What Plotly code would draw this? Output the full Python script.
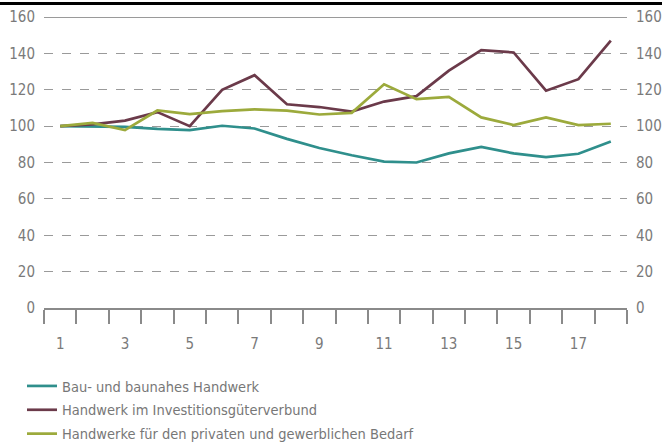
import plotly.graph_objects as go

categories = [str(i) for i in range(1, 19)]
tick_labels = [str(i) if i % 2 == 1 else "" for i in range(1, 19)]

bau = [100, 100, 99.6, 98.5, 97.8, 100.2, 98.7, 93, 88, 84, 80.5, 80, 85, 88.6, 85, 83, 84.8, 91.5]
invest = [100, 101, 103, 107.7, 100, 120, 128, 112, 110.5, 108, 113.5, 116.5, 130.5, 141.8, 140.5, 119.5, 125.8, 147]
privat = [100, 101.8, 97.8, 108.6, 106.6, 108.2, 109.2, 108.5, 106.4, 107.3, 123, 114.8, 116.1, 104.8, 100.6, 104.8, 100.6, 101.3]

names = ["Bau- und baunahes Handwerk",
         "Handwerk im Investitionsgüterverbund",
         "Handwerke für den privaten und gewerblichen Bedarf"]
colors = ["#2f8f8c", "#6b3a4a", "#9caa3c"]
series = [bau, invest, privat]

FONT = "DejaVu Sans Condensed, Roboto, sans-serif"
TICKVALS = [0, 20, 40, 60, 80, 100, 120, 140, 160]

fig = go.Figure()
for name, col, vals in zip(names, colors, series):
    fig.add_trace(go.Scatter(x=categories, y=vals, mode="lines", name=name,
                             legendgroup=name,
                             line=dict(color=col, width=2.7)))

fig.update_layout(
    width=662, height=446,
    margin=dict(l=44, r=35, t=17, b=138, autoexpand=False),
    paper_bgcolor="white", plot_bgcolor="white",
    font=dict(family=FONT, color="#7a7a7a", size=15),
    showlegend=True,
    legend=dict(x=22 / 662, y=1 - 370 / 446, xref="container", yref="container",
                xanchor="left", yanchor="top",
                orientation="v", tracegroupgap=2,
                font=dict(family=FONT, size=14.5, color="#777777"),
                bgcolor="rgba(0,0,0,0)"),
    xaxis=dict(type="category", categoryorder="array", categoryarray=categories,
               range=[-0.5, 17.5], tickvals=categories, ticktext=tick_labels,
               tickson="boundaries", ticks="outside", ticklen=14, tickwidth=2,
               tickcolor="#8a8a8a", showline=True, linecolor="#8a8a8a", linewidth=2,
               showgrid=False, zeroline=False, fixedrange=True, automargin=False,
               ticklabelstandoff=21,
               tickfont=dict(size=15, color="#7a7a7a")),
    yaxis=dict(range=[0, 160], tickvals=TICKVALS, automargin=False,
               showgrid=True, gridcolor="#9a9a9a", griddash="dash", gridwidth=1,
               zeroline=False, ticks="", ticklabelstandoff=8,
               tickfont=dict(size=15, color="#7a7a7a")),
    yaxis2=dict(range=[0, 160], overlaying="y", side="right", automargin=False,
                tickvals=TICKVALS,
                showgrid=False, zeroline=False, ticks="", ticklabelstandoff=8,
                tickfont=dict(size=15, color="#7a7a7a")),
    shapes=[
        dict(type="line", xref="paper", yref="y", x0=0, x1=1, y0=160, y1=160,
             line=dict(color="#9a9a9a", width=2), layer="below"),
        dict(type="line", xref="paper", yref="paper", x0=-0.1, x1=1.1,
             y0=1 + 13.5 / 291, y1=1 + 13.5 / 291, line=dict(color="#000000", width=3)),
    ],
)
# invisible trace to activate the right axis
fig.add_trace(go.Scatter(x=[categories[0]], y=[None], yaxis="y2", showlegend=False,
                         hoverinfo="skip"))

fig.write_html("out.html", config={"displayModeBar": False},
               post_script="document.body.style.margin='0';")
